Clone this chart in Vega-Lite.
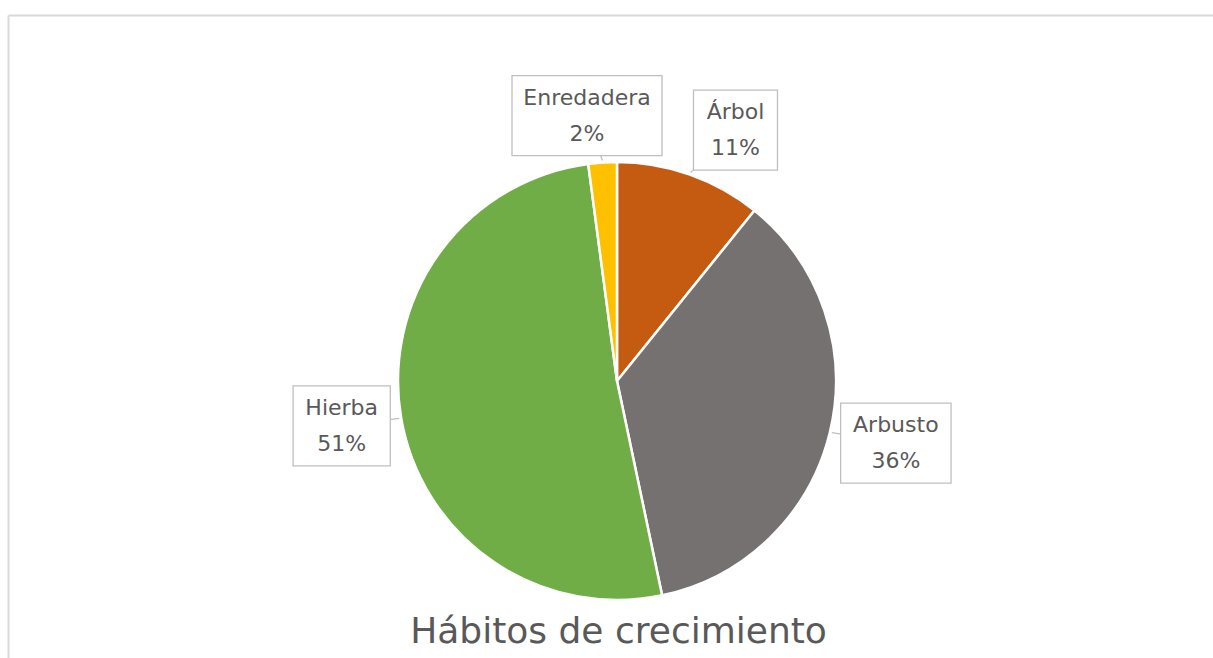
{
  "$schema": "https://vega.github.io/schema/vega-lite/v6.json",
  "width": 1205,
  "height": 643,
  "autosize": {"type": "none"},
  "padding": {"left": 8, "top": 15, "right": 0, "bottom": 0},
  "background": "#FFFFFF",
  "title": {
    "text": "Hábitos de crecimiento",
    "orient": "bottom",
    "frame": "group",
    "anchor": "middle",
    "offset": -15,
    "dx": 8,
    "baseline": "alphabetic",
    "font": "DejaVu Sans",
    "fontSize": 36,
    "fontWeight": "normal",
    "color": "#595959"
  },
  "config": {
    "view": {"stroke": null},
    "axis": {"domain": true, "domainColor": "#D9D9D9", "domainWidth": 2, "ticks": false, "labels": false, "grid": false}
  },
  "data": {
    "values": [
      {"name": "Árbol", "value": 10.8, "order": 1},
      {"name": "Arbusto", "value": 35.9, "order": 2},
      {"name": "Hierba", "value": 51.2, "order": 3},
      {"name": "Enredadera", "value": 2.1, "order": 4}
    ]
  },
  "layer": [
    {
      "mark": {"type": "arc", "outerRadius": 219, "stroke": "#FFFFFF", "strokeWidth": 2.5},
      "encoding": {
        "theta": {"field": "value", "type": "quantitative", "stack": true},
        "order": {"field": "order", "type": "quantitative"},
        "color": {
          "field": "name",
          "type": "nominal",
          "scale": {"domain": ["Árbol", "Arbusto", "Hierba", "Enredadera"], "range": ["#C55A11", "#767171", "#70AD47", "#FFC000"]},
          "legend": null
        },
        "x": {"datum": 0, "type": "quantitative", "scale": {"domain": [-609, 596], "nice": false, "zero": false}, "axis": {"orient": "top", "title": null}},
        "y": {"datum": 0, "type": "quantitative", "scale": {"domain": [-277, 366], "nice": false, "zero": false}, "axis": {"title": null}}
      }
    },
    {
      "transform": [
        {"joinaggregate": [{"op": "sum", "field": "value", "as": "total"}]},
        {"window": [{"op": "sum", "field": "value", "as": "cum"}], "sort": [{"field": "order"}], "frame": [null, 0]},
        {"calculate": "(datum.cum - datum.value / 2) / datum.total * 2 * PI", "as": "a"},
        {"calculate": "6.6 * length(datum.name) + 9", "as": "hw"},
        {"calculate": "230 * sin(datum.a) + datum.hw * clamp(3 * sin(datum.a), -1, 1)", "as": "cx"},
        {"calculate": "266 * cos(datum.a)", "as": "cy"},
        {"calculate": "datum.cx - datum.hw", "as": "bx1"},
        {"calculate": "datum.cx + datum.hw", "as": "bx2"},
        {"calculate": "datum.cy - 40", "as": "by1"},
        {"calculate": "datum.cy + 40", "as": "by2"},
        {"calculate": "221 * sin(datum.a)", "as": "px"},
        {"calculate": "221 * cos(datum.a)", "as": "py"},
        {"calculate": "datum.name + '\\n' + format(datum.value / datum.total, '.0%')", "as": "lab"}
      ],
      "layer": [
        {
          "mark": {"type": "rule", "stroke": "#BFBFBF", "strokeWidth": 1.3},
          "encoding": {
            "x": {"field": "cx", "type": "quantitative", "scale": {"domain": [-609, 596], "nice": false, "zero": false}, "axis": {"orient": "top", "title": null}},
            "y": {"field": "cy", "type": "quantitative", "scale": {"domain": [-277, 366], "nice": false, "zero": false}, "axis": {"title": null}},
            "x2": {"field": "px"},
            "y2": {"field": "py"}
          }
        },
        {
          "mark": {"type": "rect", "fill": "#FFFFFF", "stroke": "#BFBFBF", "strokeWidth": 1.3},
          "encoding": {
            "x": {"field": "bx1", "type": "quantitative", "scale": {"domain": [-609, 596], "nice": false, "zero": false}, "axis": {"orient": "top", "title": null}},
            "x2": {"field": "bx2"},
            "y": {"field": "by1", "type": "quantitative", "scale": {"domain": [-277, 366], "nice": false, "zero": false}, "axis": {"title": null}},
            "y2": {"field": "by2"}
          }
        },
        {
          "mark": {"type": "text", "font": "DejaVu Sans", "fontSize": 22, "fill": "#595959", "align": "center", "baseline": "middle", "lineBreak": "\n", "lineHeight": 36, "dy": -18},
          "encoding": {
            "x": {"field": "cx", "type": "quantitative", "scale": {"domain": [-609, 596], "nice": false, "zero": false}, "axis": {"orient": "top", "title": null}},
            "y": {"field": "cy", "type": "quantitative", "scale": {"domain": [-277, 366], "nice": false, "zero": false}, "axis": {"title": null}},
            "text": {"field": "lab"}
          }
        }
      ]
    }
  ]
}
